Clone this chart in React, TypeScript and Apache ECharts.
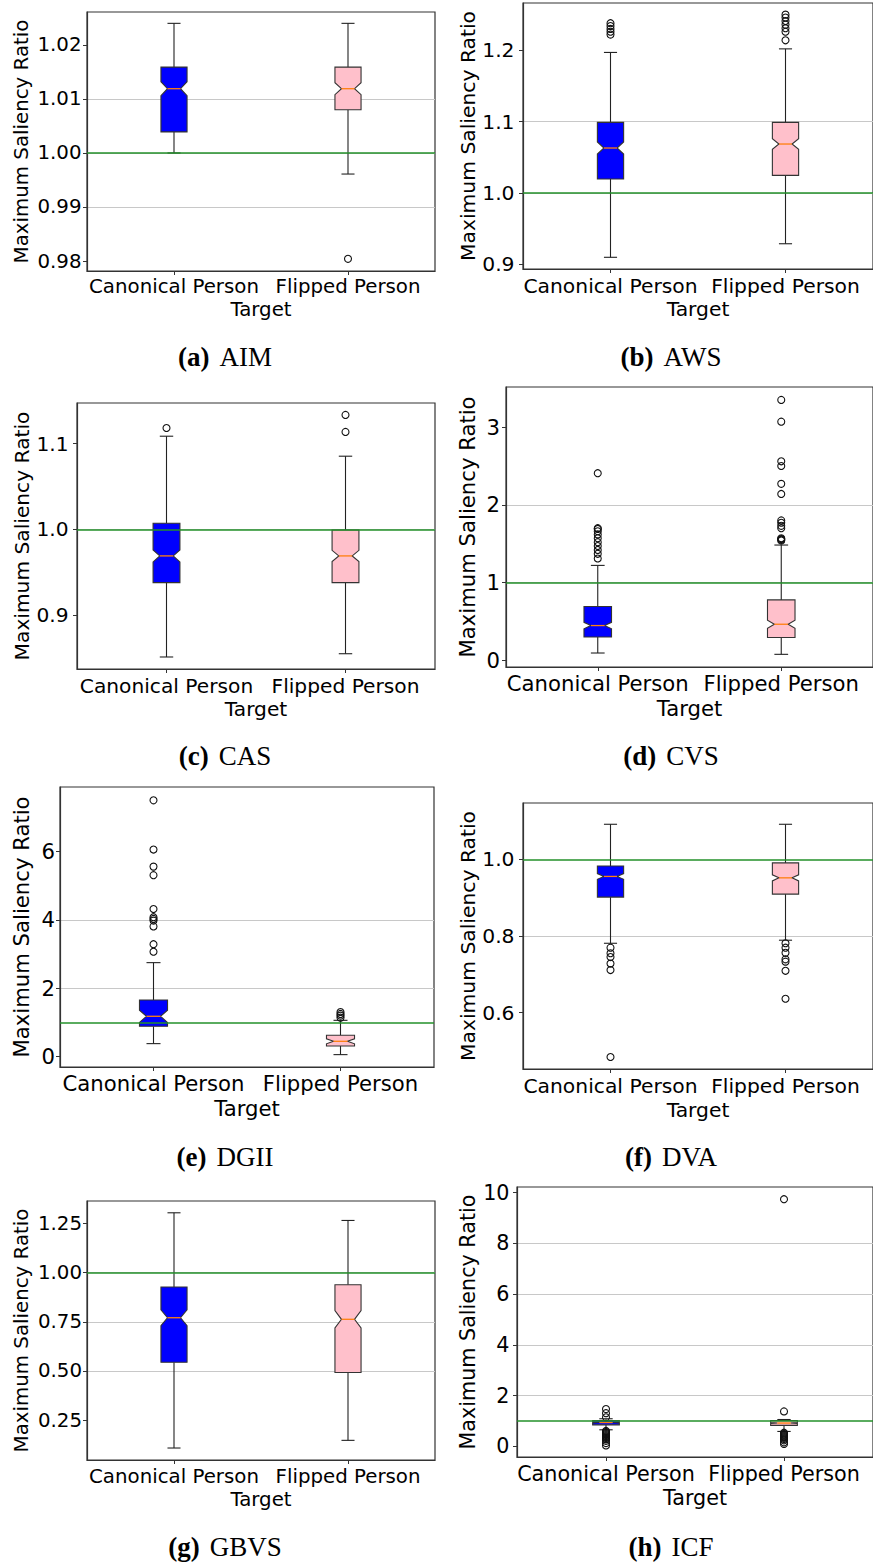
import React, { useEffect, useRef } from 'react';
import * as echarts from 'echarts';

// Target conditions on every x axis
const categories = ['Canonical Person', 'Flipped Person'];

// Box statistics per target:
// [lower whisker, Q1, notch low, median, notch high, Q3, upper whisker]
const aimCanonical = [1.0, 1.0039, 1.0106, 1.0119, 1.0132, 1.0159, 1.024];
const aimFlipped = [0.9961, 1.008, 1.0108, 1.0119, 1.013, 1.0159, 1.024];
const awsCanonical = [0.9098, 1.0196, 1.0545, 1.063, 1.0715, 1.099, 1.197];
const awsFlipped = [0.9288, 1.0246, 1.0611, 1.0686, 1.0761, 1.099, 1.202];
const casCanonical = [0.8512, 0.9379, 0.962, 0.969, 0.976, 1.007, 1.1085];
const casFlipped = [0.855, 0.9379, 0.9625, 0.969, 0.9755, 0.9992, 1.0852];
const cvsCanonical = [0.094, 0.3, 0.405, 0.447, 0.489, 0.692, 1.221];
const cvsFlipped = [0.077, 0.293, 0.412, 0.464, 0.516, 0.777, 1.483];
const dgiiCanonical = [0.38, 0.887, 1.0, 1.18, 1.36, 1.657, 2.75];
const dgiiFlipped = [0.058, 0.31, 0.375, 0.448, 0.521, 0.623, 1.062];
const dvaCanonical = [0.781, 0.9017, 0.948, 0.9557, 0.9632, 0.983, 1.092];
const dvaFlipped = [0.789, 0.9095, 0.944, 0.952, 0.96, 0.991, 1.092];
const gbvsCanonical = [0.108, 0.5444, 0.731, 0.771, 0.811, 0.927, 1.305];
const gbvsFlipped = [0.147, 0.492, 0.719, 0.763, 0.807, 0.939, 1.266];
const icfCanonical = [0.655, 0.85, 0.922, 0.94, 0.958, 1.02, 1.09];
const icfFlipped = [0.59, 0.83, 0.9, 0.92, 0.94, 1.02, 1.06];

// Outliers (fliers) per target
const aimCanonicalOut: number[] = [];
const aimFlippedOut = [0.9804];
const awsCanonicalOut = [1.222, 1.226, 1.23, 1.234, 1.238];
const awsFlippedOut = [1.214, 1.226, 1.231, 1.236, 1.241, 1.246, 1.25];
const casCanonicalOut = [1.1181];
const casFlippedOut = [1.1135, 1.1333];
const cvsCanonicalOut = [1.31, 1.37, 1.42, 1.47, 1.52, 1.57, 1.62, 1.66, 1.69, 1.7, 2.407];
const cvsFlippedOut = [1.54, 1.55, 1.56, 1.57, 1.7, 1.73, 1.77, 1.8, 2.14, 2.27, 2.5, 2.56, 3.07, 3.35];
const dgiiCanonicalOut = [3.07, 3.29, 3.81, 3.98, 4.03, 4.08, 4.32, 5.31, 5.56, 6.06, 7.5];
const dgiiFlippedOut = [1.14, 1.2, 1.25, 1.305];
const dvaCanonicalOut = [0.4837, 0.711, 0.728, 0.745, 0.755, 0.7695];
const dvaFlippedOut = [0.636, 0.709, 0.733, 0.739, 0.756, 0.7695, 0.781];
const gbvsCanonicalOut: number[] = [];
const gbvsFlippedOut: number[] = [];
const icfCanonicalOut = [0.04, 0.13, 0.22, 0.28, 0.33, 0.37, 0.41, 0.45, 0.49, 0.53, 0.57, 0.61, 1.15, 1.31, 1.47];
const icfFlippedOut = [0.1, 0.16, 0.24, 0.29, 0.34, 0.38, 0.42, 0.46, 0.5, 0.54, 1.38, 9.74];

// Y tick labels per panel
const aimTicks = [0.98, 0.99, 1.0, 1.01, 1.02];
const awsTicks = [0.9, 1.0, 1.1, 1.2];
const casTicks = [0.9, 1.0, 1.1];
const cvsTicks = [0, 1, 2, 3];
const dgiiTicks = [0, 2, 4, 6];
const dvaTicks = [0.6, 0.8, 1.0];
const gbvsTicks = [0.25, 0.5, 0.75, 1.0, 1.25];
const icfTicks = [0, 2, 4, 6, 8, 10];

// Reference ratio drawn as the horizontal line
const REFERENCE = 1.0;

const BOX_FILL = ['#0000ff', '#ffc0cb'];
const SANS = 'DejaVu Sans';
const SERIF = '"Liberation Serif", "DejaVu Serif", serif';

type Panel = {
  tag: string;
  title: string;
  boxes: number[][];
  outliers: number[][];
  ticks: number[];
  step: number;
  digits: number;
  yMin: number;
  yMax: number;
  left: number;
  top: number;
  width: number;
  height: number;
  font: number;
  yLabelMargin: number;
  yNameGap: number;
  xLabelMargin: number;
  xNameGap: number;
  capX: number;
  capY: number;
};

const panels: Panel[] = [
  { tag: '(a)', title: 'AIM', boxes: [aimCanonical, aimFlipped], outliers: [aimCanonicalOut, aimFlippedOut], ticks: aimTicks, step: 0.01, digits: 2, yMin: 0.97815, yMax: 1.0261,
    left: 87, top: 12, width: 348, height: 259, font: 19.8, yLabelMargin: 5.5, yNameGap: 56, xLabelMargin: 5.5, xNameGap: 28.5, capX: 225, capY: 357 },
  { tag: '(b)', title: 'AWS', boxes: [awsCanonical, awsFlipped], outliers: [awsCanonicalOut, awsFlippedOut], ticks: awsTicks, step: 0.1, digits: 1, yMin: 0.8934, yMax: 1.2663,
    left: 523, top: 3, width: 357, height: 266, font: 20.3, yLabelMargin: 8.5, yNameGap: 45, xLabelMargin: 6.5, xNameGap: 30, capX: 671, capY: 357 },
  { tag: '(c)', title: 'CAS', boxes: [casCanonical, casFlipped], outliers: [casCanonicalOut, casFlippedOut], ticks: casTicks, step: 0.1, digits: 1, yMin: 0.8372, yMax: 1.1472,
    left: 77, top: 403, width: 358, height: 266, font: 20.2, yLabelMargin: 8.5, yNameGap: 45, xLabelMargin: 6.5, xNameGap: 30, capX: 225, capY: 756 },
  { tag: '(d)', title: 'CVS', boxes: [cvsCanonical, cvsFlipped], outliers: [cvsCanonicalOut, cvsFlippedOut], ticks: cvsTicks, step: 1, digits: 0, yMin: -0.086, yMax: 3.516,
    left: 506, top: 387, width: 375, height: 280, font: 21.2, yLabelMargin: 6, yNameGap: 28, xLabelMargin: 6, xNameGap: 30.5, capX: 671, capY: 756 },
  { tag: '(e)', title: 'DGII', boxes: [dgiiCanonical, dgiiFlipped], outliers: [dgiiCanonicalOut, dgiiFlippedOut], ticks: dgiiTicks, step: 2, digits: 0, yMin: -0.304, yMax: 7.89,
    left: 60, top: 787, width: 374, height: 280, font: 21.2, yLabelMargin: 5, yNameGap: 28, xLabelMargin: 6, xNameGap: 30.5, capX: 225, capY: 1157 },
  { tag: '(f)', title: 'DVA', boxes: [dvaCanonical, dvaFlipped], outliers: [dvaCanonicalOut, dvaFlippedOut], ticks: dvaTicks, step: 0.2, digits: 1, yMin: 0.4524, yMax: 1.1476,
    left: 523, top: 803, width: 357, height: 266, font: 20.3, yLabelMargin: 8.5, yNameGap: 45, xLabelMargin: 6.5, xNameGap: 30.5, capX: 671, capY: 1157 },
  { tag: '(g)', title: 'GBVS', boxes: [gbvsCanonical, gbvsFlipped], outliers: [gbvsCanonicalOut, gbvsFlippedOut], ticks: gbvsTicks, step: 0.25, digits: 2, yMin: 0.047, yMax: 1.365,
    left: 87, top: 1201, width: 348, height: 259, font: 19.8, yLabelMargin: 5, yNameGap: 56, xLabelMargin: 6, xNameGap: 29, capX: 225, capY: 1547 },
  { tag: '(h)', title: 'ICF', boxes: [icfCanonical, icfFlipped], outliers: [icfCanonicalOut, icfFlippedOut], ticks: icfTicks, step: 2, digits: 0, yMin: -0.417, yMax: 10.22,
    left: 517, top: 1187, width: 363, height: 270, font: 20.7, yLabelMargin: 7.5, yNameGap: 39, xLabelMargin: 6.5, xNameGap: 30.5, capX: 671, capY: 1547 },
];

// Notched box with whiskers, caps and median, sized from the category band
const renderBox = (_params: any, api: any) => {
  const k = api.value(0);
  const wLo = api.value(1);
  const q1 = api.value(2);
  const nLo = api.value(3);
  const med = api.value(4);
  const nHi = api.value(5);
  const q3 = api.value(6);
  const wHi = api.value(7);
  const cx = api.coord([k, med])[0];
  const band = api.size([1, 0])[0];
  const half = band * 0.075;
  const inner = half / 2;
  const Y = (v: number) => api.coord([k, v])[1];
  const whisker = { stroke: '#222222', lineWidth: 1.1 };
  return {
    type: 'group',
    children: [
      { type: 'line', shape: { x1: cx, y1: Y(q3), x2: cx, y2: Y(wHi) }, style: whisker },
      { type: 'line', shape: { x1: cx, y1: Y(q1), x2: cx, y2: Y(wLo) }, style: whisker },
      { type: 'line', shape: { x1: cx - inner, y1: Y(wHi), x2: cx + inner, y2: Y(wHi) }, style: whisker },
      { type: 'line', shape: { x1: cx - inner, y1: Y(wLo), x2: cx + inner, y2: Y(wLo) }, style: whisker },
      {
        type: 'polygon',
        shape: {
          points: [
            [cx - half, Y(q1)], [cx + half, Y(q1)], [cx + half, Y(nLo)], [cx + inner, Y(med)],
            [cx + half, Y(nHi)], [cx + half, Y(q3)], [cx - half, Y(q3)], [cx - half, Y(nHi)],
            [cx - inner, Y(med)], [cx - half, Y(nLo)],
          ],
        },
        style: { fill: BOX_FILL[k], stroke: '#333333', lineWidth: 1.1 },
      },
      { type: 'line', shape: { x1: cx - inner, y1: Y(med), x2: cx + inner, y2: Y(med) }, style: { stroke: '#ff7f0e', lineWidth: 1.3 } },
    ],
  };
};

const buildOption = () => {
  const grid = panels.map((p) => ({
    left: p.left, top: p.top, width: p.width, height: p.height,
    show: true, borderColor: '#333333', borderWidth: 1.2, backgroundColor: 'transparent',
  }));

  const xAxis = panels.map((p, i) => ({
    type: 'category', gridIndex: i, data: categories, boundaryGap: true,
    axisLine: { show: true, onZero: false, lineStyle: { color: '#333333', width: 1.2 } },
    axisTick: { show: true, alignWithLabel: true, interval: 0, length: 4, lineStyle: { color: '#333333' } },
    axisLabel: { interval: 0, color: '#000', fontFamily: SANS, fontSize: p.font, margin: p.xLabelMargin },
    splitLine: { show: false },
    name: 'Target', nameLocation: 'middle', nameGap: p.xNameGap,
    nameTextStyle: { color: '#000', fontFamily: SANS, fontSize: p.font },
  }));

  const yAxis = panels.map((p, i) => ({
    type: 'value', gridIndex: i, min: p.yMin, max: p.yMax,
    minInterval: p.step, maxInterval: p.step,
    axisLine: { show: true, onZero: false, lineStyle: { color: '#333333', width: 1.2 } },
    axisTick: { show: true, length: 4, customValues: p.ticks, lineStyle: { color: '#333333' } },
    axisLabel: {
      customValues: p.ticks, color: '#000', fontFamily: SANS, fontSize: p.font, margin: p.yLabelMargin,
      formatter: (v: number) => {
        const r = v / p.step;
        return Math.abs(r - Math.round(r)) < 1e-6 ? v.toFixed(p.digits) : '';
      },
    },
    splitLine: { show: true, showMinLine: false, showMaxLine: false, lineStyle: { color: '#c8c8c8', width: 1 } },
    name: 'Maximum Saliency Ratio', nameLocation: 'middle', nameRotate: 90, nameGap: p.yNameGap,
    nameTextStyle: { color: '#000', fontFamily: SANS, fontSize: p.font },
  }));

  const series: any[] = [];
  panels.forEach((p, i) => {
    series.push({
      type: 'custom', xAxisIndex: i, yAxisIndex: i, z: 3, clip: false,
      data: p.boxes.map((b, k) => [k, ...b]),
      renderItem: renderBox,
      silent: true,
    });
    const fliers: number[][] = [];
    p.outliers.forEach((list, k) => list.forEach((v) => fliers.push([k, v])));
    series.push({
      type: 'scatter', xAxisIndex: i, yAxisIndex: i, z: 4, silent: true,
      data: fliers, symbol: 'circle', symbolSize: 7,
      itemStyle: { color: 'rgba(0,0,0,0)', borderColor: '#111111', borderWidth: 1.1, opacity: 1 },
      markLine: {
        silent: true, symbol: 'none', animation: false,
        label: { show: false },
        lineStyle: { color: '#23902a', width: 1.7, type: 'solid' },
        data: [{ yAxis: REFERENCE }],
        z: 6,
      },
    });
  });

  const graphic = panels.map((p) => ({
    type: 'text', x: p.capX, y: p.capY, silent: true,
    style: {
      text: `{b|${p.tag}}{r|${p.title}}`,
      align: 'center', verticalAlign: 'middle',
      rich: {
        b: { fontFamily: SERIF, fontWeight: 'bold', fontSize: 27, fill: '#000', padding: [0, 10, 0, 0] },
        r: { fontFamily: SERIF, fontSize: 27, fill: '#000' },
      },
    },
  }));

  return { animation: false, backgroundColor: '#ffffff', grid, xAxis, yAxis, series, graphic };
};

export default function App() {
  const ref = useRef<HTMLDivElement>(null);
  useEffect(() => {
    if (!ref.current) return;
    const chart = echarts.init(ref.current, undefined, { renderer: 'svg' });
    chart.setOption(buildOption() as any);
    return () => chart.dispose();
  }, []);
  return <div ref={ref} style={{ position: 'absolute', left: 0, top: 0, width: 873, height: 1564 }} />;
}
